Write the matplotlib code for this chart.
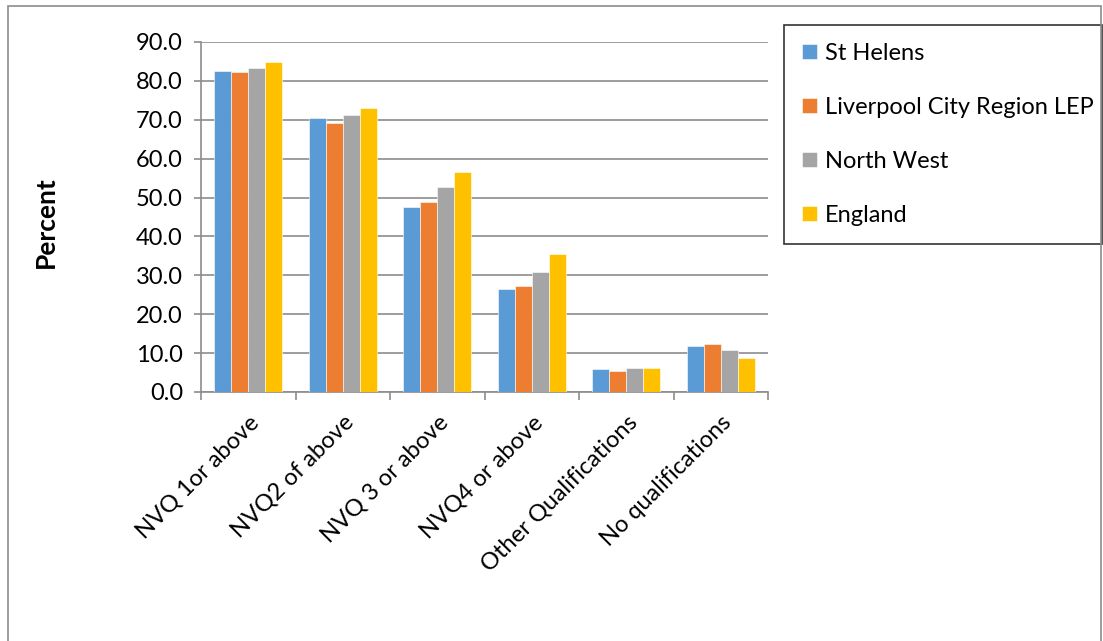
import numpy as np
import matplotlib.pyplot as plt
from matplotlib.patches import Rectangle

categories = ['NVQ 1or above', 'NVQ2 of above', 'NVQ 3 or above',
              'NVQ4 or above', 'Other Qualifications', 'No qualifications']
series_names = ['St Helens', 'Liverpool City Region LEP', 'North West', 'England']
st_helens = [82.5, 70.4, 47.7, 26.5, 6.0, 11.8]
liverpool = [82.3, 69.3, 48.8, 27.3, 5.3, 12.4]
north_west = [83.2, 71.3, 52.6, 30.9, 6.1, 10.7]
england = [84.9, 73.1, 56.5, 35.6, 6.3, 8.7]

colors = ['#5b9bd5', '#ed7d31', '#a5a5a5', '#ffc000']

plt.rcParams['font.family'] = ['Lato', 'DejaVu Sans']

fig = plt.figure(figsize=(11.03, 6.41), dpi=100)
ax = fig.add_axes([201 / 1103, 1 - 392 / 641, (768 - 201) / 1103, 350 / 641])

x = np.arange(len(categories))
width = 0.18
all_series = [st_helens, liverpool, north_west, england]
for i, (vals, name) in enumerate(zip(all_series, series_names)):
    ax.bar(x + (i - 1.5) * width, vals, width, color=colors[i], label=name,
           edgecolor='white', linewidth=0.4, zorder=3)

ax.set_xlim(-0.5, len(categories) - 0.5)
ax.set_ylim(0, 90)
ax.set_yticks(np.arange(0, 91, 10))
ax.set_yticklabels([f"{v:.1f}" for v in np.arange(0, 91, 10)], fontsize=17)
ax.yaxis.grid(True, color='#8c8c8c', linewidth=1.2, zorder=0)
ax.tick_params(axis='y', length=5, color='#8c8c8c', width=1.2, pad=8)

# category labels at centers, tick marks at boundaries
ax.set_xticks(np.arange(-0.5, len(categories)), minor=False)
ax.set_xticklabels([])
ax.tick_params(axis='x', length=6, color='#8c8c8c', width=1.2)
ax.set_xticks(x, minor=True)
ax.set_xticklabels(categories, minor=True, rotation=45, ha='right',
                   rotation_mode='anchor', fontsize=17)
ax.tick_params(axis='x', which='minor', length=0, pad=14)

for s in ['top', 'right']:
    ax.spines[s].set_visible(False)
for s in ['left', 'bottom']:
    ax.spines[s].set_color('#8c8c8c')
    ax.spines[s].set_linewidth(1.2)

ax.set_ylabel('Percent', fontsize=19, fontweight='bold', labelpad=0)
ax.yaxis.set_label_coords(-0.252, 0.485)

leg = ax.legend(loc='upper left',
                bbox_to_anchor=(784 / 1103, 1 - 238 / 641, (1102 - 784) / 1103, 213 / 641),
                bbox_transform=fig.transFigure, mode='expand', fontsize=17,
                borderaxespad=0, frameon=True, fancybox=False,
                handlelength=0.65, handleheight=0.65,
                labelspacing=1.4, borderpad=0.75, handletextpad=0.35)
leg.get_frame().set_edgecolor('black')
leg.get_frame().set_linewidth(1.2)

fig.patches.append(Rectangle((8 / 1103, -0.01), 1 - 10 / 1103, 1 - 6 / 641 + 0.01,
                             transform=fig.transFigure, fill=False,
                             edgecolor='#8c8c8c', linewidth=1.2))

fig.savefig('out.png', dpi=100)
